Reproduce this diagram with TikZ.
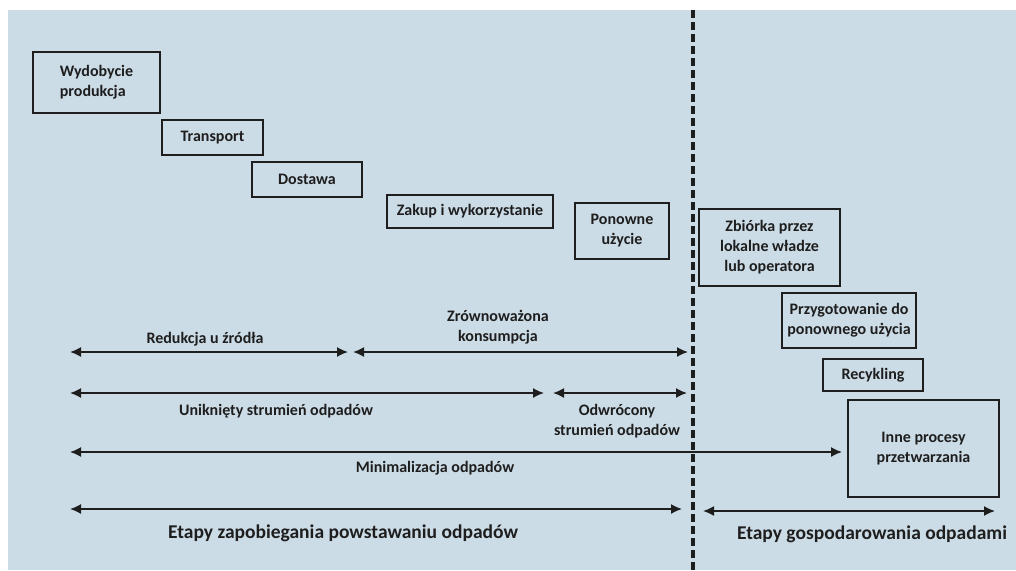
\documentclass[tikz,border=0pt]{standalone}
\usepackage{fontspec}
\setmainfont{Carlito}
\usetikzlibrary{arrows.meta}
\definecolor{tlo}{RGB}{204,220,230}
\definecolor{linia}{RGB}{30,30,30}
\begin{document}
\begin{tikzpicture}
	[x=1pt,y=-1pt,
	etap/.style={draw=linia,line width=1.6pt,align=center,inner sep=0pt,text=linia,font=\bfseries\fontsize{16}{20}\selectfont},
	opis/.style={align=center,inner sep=0pt,text=linia,font=\bfseries\fontsize{16}{20}\selectfont},
	duzy/.style={inner sep=0pt,text=linia,font=\bfseries\fontsize{19.5}{23}\selectfont},
	zakres/.style={<->,line width=1.6pt,draw=linia},
	>={Latex[length=11pt,width=10pt]}]
\useasboundingbox (0,0) rectangle (1016,570);
\fill[tlo] (8,10) rectangle (1016,570);
% etapy
\node[etap,minimum width=127pt,minimum height=61pt,align=left] (wyd) at (96.5,82.5) {Wydobycie\\produkcja};
\node[etap,minimum width=101pt,minimum height=35pt] (trans) at (212.5,137.5) {Transport};
\node[etap,minimum width=110pt,minimum height=35pt] (dost) at (307,179.5) {Dostawa};
\node[etap,minimum width=166pt,minimum height=33pt] (zakup) at (470,211.5) {Zakup i wykorzystanie};
\node[etap,minimum width=94pt,minimum height=56pt] (ponow) at (622,231) {Ponowne\\użycie};
\node[etap,minimum width=141pt,minimum height=77pt] (zbior) at (769.5,247.5) {Zbiórka przez\\lokalne władze\\lub operatora};
\node[etap,minimum width=134pt,minimum height=55pt] (przyg) at (849,320.5) {Przygotowanie do\\ponownego użycia};
\node[etap,minimum width=100pt,minimum height=32pt] (recyk) at (873,375) {Recykling};
\node[etap,minimum width=151pt,minimum height=97pt] (inne) at (923.5,448.5) {Inne procesy\\przetwarzania};
% zakresy
\coordinate (red1) at (70,352);
\coordinate (red2) at (348,352);
\coordinate (zrow1) at (353,352);
\coordinate (zrow2) at (688,352);
\coordinate (unik1) at (70,393);
\coordinate (unik2) at (544,393);
\coordinate (odw1) at (553,393);
\coordinate (odw2) at (687,393);
\coordinate (min1) at (70,452);
\coordinate (min2) at (842,452);
\coordinate (zap1) at (70,509);
\coordinate (zap2) at (682,509);
\coordinate (gosp1) at (703,511);
\coordinate (gosp2) at (995,511);
\draw[zakres] (red1) -- (red2);
\draw[zakres] (zrow1) -- (zrow2);
\draw[zakres] (unik1) -- (unik2);
\draw[zakres] (odw1) -- (odw2);
\draw[zakres] (min1) -- (min2);
\draw[zakres] (zap1) -- (zap2);
\draw[zakres] (gosp1) -- (gosp2);
\node[opis] (redl) at (205,339) {Redukcja u źródła};
\node[opis] (zrowl) at (498,327) {Zrównoważona\\konsumpcja};
\node[opis] (unikl) at (276,411) {Uniknięty strumień odpadów};
\node[opis] (odwl) at (617,421) {Odwrócony\\strumień odpadów};
\node[opis] (minl) at (435,468) {Minimalizacja odpadów};
\node[duzy] (zapl) at (343,533) {Etapy zapobiegania powstawaniu odpadów};
\node[duzy] (gospl) at (872,534) {Etapy gospodarowania odpadami};
% granica
\coordinate (gora) at (693,10);
\coordinate (dol) at (693,570);
\draw[linia,line width=4pt,dash pattern=on 8pt off 4pt] (gora) -- (dol);
\end{tikzpicture}
\end{document}
